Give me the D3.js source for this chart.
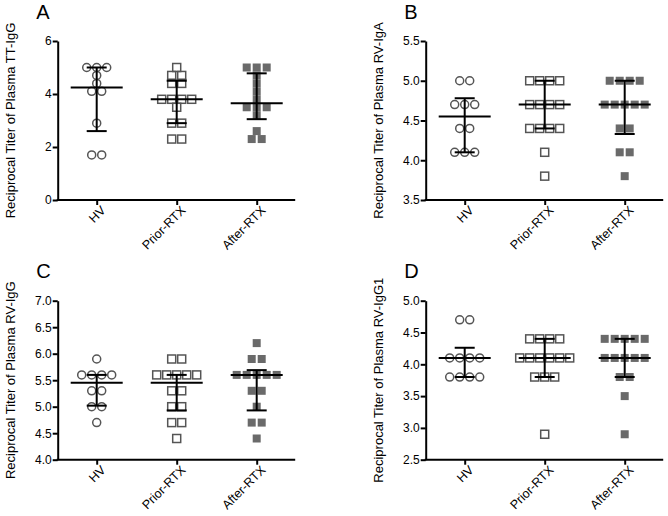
<!DOCTYPE html>
<html>
<head>
<meta charset="utf-8">
<script src="https://cdn.jsdelivr.net/npm/d3@7"></script>
<style>
  html, body { margin: 0; padding: 0; background: #fff; }
  svg { display: block; font-family: "Liberation Sans", Arial, Helvetica, sans-serif; }
</style>
</head>
<body>
<svg id="chart" width="668" height="516"></svg>
<script>
// ---------- data ----------
const categories = ["HV", "Prior-RTX", "After-RTX"];
const panelLetters = ["A", "B", "C", "D"];
const yTitles = [
  "Reciprocal Titer of Plasma TT-IgG",
  "Reciprocal Titer of Plasma RV-IgA",
  "Reciprocal Titer of Plasma RV-IgG",
  "Reciprocal Titer of Plasma RV-IgG1"
];
const yDomains = [[0, 6], [3.5, 5.5], [4.0, 7.0], [2.5, 5.0]];
const yTickValues = [
  [0, 2, 4, 6],
  [3.5, 4.0, 4.5, 5.0, 5.5],
  [4.0, 4.5, 5.0, 5.5, 6.0, 6.5, 7.0],
  [2.5, 3.0, 3.5, 4.0, 4.5, 5.0]
];
const yTickLabels = [
  ["0", "2", "4", "6"],
  ["3.5", "4.0", "4.5", "5.0", "5.5"],
  ["4.0", "4.5", "5.0", "5.5", "6.0", "6.5", "7.0"],
  ["2.5", "3.0", "3.5", "4.0", "4.5", "5.0"]
];

// Panel A: TT-IgG
const A_HV    = [5.0, 5.0, 5.0, 4.7, 4.4, 4.1, 4.1, 2.9, 1.7, 1.7];
const A_Prior = [5.0, 4.7, 4.7, 4.4, 4.4, 3.8, 3.8, 3.8, 3.8, 3.5, 2.9, 2.9, 2.3, 2.3];
const A_After = [5.0, 5.0, 5.0, 4.7, 4.4, 4.1, 3.8, 3.5, 3.5, 3.5, 3.2, 2.6, 2.3, 2.3];
const A_median = [4.25, 3.8, 3.65];
const A_low    = [2.6, 2.9, 3.05];
const A_high   = [5.0, 4.5, 4.78];

// Panel B: RV-IgA
const B_HV    = [5.0, 5.0, 4.7, 4.7, 4.7, 4.4, 4.4, 4.1, 4.1, 4.1];
const B_Prior = [5.0, 5.0, 5.0, 5.0, 4.7, 4.7, 4.7, 4.7, 4.4, 4.4, 4.4, 4.4, 4.1, 3.8];
const B_After = [5.0, 5.0, 5.0, 5.0, 4.7, 4.7, 4.7, 4.7, 4.7, 4.4, 4.4, 4.1, 4.1, 3.8];
const B_median = [4.55, 4.7, 4.7];
const B_low    = [4.1, 4.4, 4.33];
const B_high   = [4.78, 5.0, 5.0];

// Panel C: RV-IgG
const C_HV    = [5.9, 5.6, 5.6, 5.6, 5.6, 5.3, 5.3, 5.0, 5.0, 4.7];
const C_Prior = [5.9, 5.9, 5.6, 5.6, 5.6, 5.6, 5.6, 5.3, 5.3, 5.0, 5.0, 4.7, 4.7, 4.4];
const C_After = [6.2, 5.9, 5.9, 5.6, 5.6, 5.6, 5.6, 5.6, 5.3, 5.3, 5.0, 4.7, 4.7, 4.4];
const C_median = [5.45, 5.45, 5.6];
const C_low    = [5.02, 4.93, 4.93];
const C_high   = [5.6, 5.6, 5.69];

// Panel D: RV-IgG1
const D_HV    = [4.7, 4.7, 4.1, 4.1, 4.1, 4.1, 3.8, 3.8, 3.8, 3.8];
const D_Prior = [4.4, 4.4, 4.4, 4.4, 4.1, 4.1, 4.1, 4.1, 4.1, 4.1, 3.8, 3.8, 3.8, 2.9];
const D_After = [4.4, 4.4, 4.4, 4.4, 4.4, 4.1, 4.1, 4.1, 4.1, 4.1, 3.8, 3.8, 3.5, 2.9];
const D_median = [4.1, 4.1, 4.1];
const D_low    = [3.8, 3.8, 3.8];
const D_high   = [4.26, 4.4, 4.4];

const panelSeries = [
  [A_HV, A_Prior, A_After],
  [B_HV, B_Prior, B_After],
  [C_HV, C_Prior, C_After],
  [D_HV, D_Prior, D_After]
];
const panelMedian = [A_median, B_median, C_median, D_median];
const panelLow = [A_low, B_low, C_low, D_low];
const panelHigh = [A_high, B_high, C_high, D_high];

// ---------- layout ----------
const origins = [[57.7, 41], [425.7, 41], [57.7, 300.7], [425.7, 300.7]];
const plotW = 237.5, plotH = 159;
const markerSpacing = 10;
const markerSize = 8;
const openColor = "#555";
const fillColor = "#6a6a6a";

const svg = d3.select("#chart");

function rowOffsets(values) {
  // group identical values into centered rows
  const groups = d3.group(values.map((v, i) => ({ v, i })), d => d.v.toFixed(2));
  const out = [];
  for (const [, arr] of groups) {
    const n = arr.length;
    arr.forEach((d, k) => out.push({ v: d.v, dx: (k - (n - 1) / 2) * markerSpacing }));
  }
  return out;
}

panelSeries.forEach((series, p) => {
  const [ox, oy] = origins[p];
  const g = svg.append("g").attr("transform", `translate(${ox},${oy})`);

  const x = d3.scalePoint().domain(categories).range([39, 199]);
  const y = d3.scaleLinear().domain(yDomains[p]).range([plotH, 0]);

  // markers
  series.forEach((vals, c) => {
    const cx = x(categories[c]);
    const pts = rowOffsets(vals);
    const mg = g.append("g");
    if (c === 0) {
      mg.selectAll("circle").data(pts).join("circle")
        .attr("cx", d => cx + d.dx)
        .attr("cy", d => y(d.v))
        .attr("r", markerSize / 2)
        .attr("fill", "none")
        .attr("stroke", openColor)
        .attr("stroke-width", 1.5);
    } else {
      mg.selectAll("rect").data(pts).join("rect")
        .attr("x", d => cx + d.dx - markerSize / 2)
        .attr("y", d => y(d.v) - markerSize / 2)
        .attr("width", markerSize)
        .attr("height", markerSize)
        .attr("fill", c === 2 ? fillColor : "none")
        .attr("stroke", c === 2 ? "none" : openColor)
        .attr("stroke-width", 1.5);
    }
  });

  // median + error bars
  const stats = categories.map((cat, c) => ({
    cat, med: panelMedian[p][c], lo: panelLow[p][c], hi: panelHigh[p][c]
  }));
  const sg = g.append("g").attr("stroke", "#000").attr("stroke-width", 2);
  sg.selectAll("line.med").data(stats).join("line").attr("class", "med")
    .attr("x1", d => x(d.cat) - 26).attr("x2", d => x(d.cat) + 26)
    .attr("y1", d => y(d.med)).attr("y2", d => y(d.med));
  sg.selectAll("line.err").data(stats).join("line").attr("class", "err")
    .attr("x1", d => x(d.cat)).attr("x2", d => x(d.cat))
    .attr("y1", d => y(d.lo)).attr("y2", d => y(d.hi));
  sg.selectAll("line.capl").data(stats).join("line").attr("class", "capl")
    .attr("x1", d => x(d.cat) - 10).attr("x2", d => x(d.cat) + 10)
    .attr("y1", d => y(d.lo)).attr("y2", d => y(d.lo));
  sg.selectAll("line.caph").data(stats).join("line").attr("class", "caph")
    .attr("x1", d => x(d.cat) - 10).attr("x2", d => x(d.cat) + 10)
    .attr("y1", d => y(d.hi)).attr("y2", d => y(d.hi));

  // y axis
  const yAxis = d3.axisLeft(y)
    .tickValues(yTickValues[p])
    .tickFormat((d, i) => yTickLabels[p][i])
    .tickSize(5).tickSizeOuter(0).tickPadding(1);
  const ya = g.append("g").call(yAxis);
  ya.select(".domain").attr("stroke", "#000").attr("stroke-width", 2);
  ya.selectAll(".tick line").attr("stroke", "#000").attr("stroke-width", 2);
  ya.selectAll(".tick text").attr("font-size", 12).attr("fill", "#000")
    .attr("font-family", "Liberation Sans, Arial, sans-serif");

  // x axis
  const xAxis = d3.axisBottom(x).tickSize(5).tickSizeOuter(0);
  const xa = g.append("g").attr("transform", `translate(0,${plotH})`).call(xAxis);
  xa.select(".domain").remove();
  xa.append("line").attr("x1", -1).attr("x2", plotW).attr("y1", 0).attr("y2", 0)
    .attr("stroke", "#000").attr("stroke-width", 2);
  xa.selectAll(".tick line").attr("stroke", "#000").attr("stroke-width", 2);
  xa.selectAll(".tick text")
    .attr("font-size", 12.5).attr("fill", "#000")
    .attr("font-family", "Liberation Sans, Arial, sans-serif")
    .attr("text-anchor", "end")
    .attr("x", 0).attr("y", 0).attr("dy", "0.35em")
    .attr("transform", "translate(6,8) rotate(-45)");

  // y title
  g.append("text")
    .attr("transform", `translate(-47.7,${plotH / 2}) rotate(-90)`)
    .attr("text-anchor", "middle")
    .attr("dy", "0.35em")
    .attr("font-size", 13)
    .attr("fill", "#000")
    .text(yTitles[p]);

  // panel letter
  g.append("text")
    .attr("x", -21.5).attr("y", -22.5)
    .attr("font-size", 20)
    .attr("fill", "#000")
    .text(panelLetters[p]);
});
</script>
</body>
</html>
